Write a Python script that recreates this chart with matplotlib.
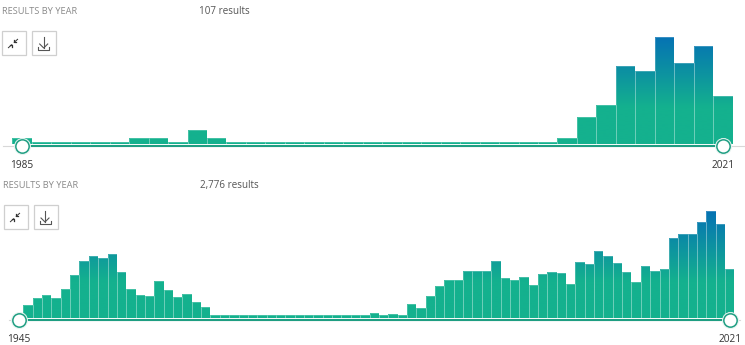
import numpy as np
import matplotlib
matplotlib.use('Agg')
import matplotlib.pyplot as plt
from matplotlib.colors import LinearSegmentedColormap
from matplotlib.patches import Rectangle
from matplotlib.path import Path

W, H = 745, 345
plt.rcParams['font.family'] = ['Open Sans', 'DejaVu Sans']

# bar heights
years_top = list(range(1985, 2022))
values_top = [6.2, 2.4, 2.4, 2.4, 2.4, 2.4, 6.2, 6.2, 2.4, 14.5, 6.2] + [2.4] * 17 + \
             [6.2, 27.2, 39.8, 78.2, 73.8, 107.5, 81.8, 98.8, 48.5]

years_bottom = list(range(1945, 2022))
values_bottom = [1.0, 13.3, 20, 23.3, 20, 28.7, 43.3, 57.3, 62.3, 59.7, 64.3, 45.7, 28.7, 22.7, 21.7,
                 37.3, 27.7, 21, 24, 16.3, 10.7,
                 2.6, 2.6, 2.6, 2.6, 2.6, 2.6, 2.6, 2.6, 2.6, 2.6, 2.6, 2.6, 2.6, 2.6, 2.6, 2.6, 2.6,
                 4.7, 2.7, 3.7, 2.7, 13.7, 9.7, 22.3, 32.3, 37.7, 37.7, 47, 47, 47, 57,
                 40, 38.3, 40.7, 33, 43.7, 45.7, 44.7, 33.7, 56.3, 54, 67, 61.7, 54.7, 46.3, 36.3,
                 51.7, 47, 49.3, 79.7, 83.7, 83.7, 95.7, 107.3, 94.3, 48.7]

GREEN = '#14b18e'
BLUE = '#0570b5'
LINE = '#1f9e82'
cmap = LinearSegmentedColormap.from_list('res', [(0, GREEN), (0.33, GREEN), (1, BLUE)])

fig = plt.figure(figsize=(W / 100, H / 100), dpi=100)

# overlay in pixel coords for the page furniture
page = fig.add_axes([0, 0, 1, 1])
page.set_xlim(0, W)
page.set_ylim(H, 0)
page.axis('off')


def histogram(years, values, left, right, base):
    top = 120
    ax = fig.add_axes([left / W, (H - base) / H, (right - left) / W, top / H])
    ax.axis('off')
    xmin, xmax = years[0] - 0.5, years[-1] + 0.5
    bars = ax.bar(years, values, width=1.0, facecolor='none', edgecolor=(1, 1, 1, 0.22), linewidth=0.7, zorder=3)
    grad = np.linspace(1, 0, 256).reshape(-1, 1)
    im = ax.imshow(grad, extent=[xmin, xmax, 0, 110], cmap=cmap, aspect='auto', zorder=2)
    path = Path.make_compound_path(*[b.get_path().transformed(b.get_patch_transform()) for b in bars])
    im.set_clip_path(path, ax.transData)
    ax.set_xlim(xmin, xmax)
    ax.set_ylim(0, top)

    # slider track and handles
    y = -1.7
    ax.plot([xmin - 0.5, xmax + 0.6], [y, y], color='#d8d8d8', lw=0.8, clip_on=False, zorder=1)
    ax.plot([years[0], years[-1]], [y, y], color=LINE, lw=1.5, clip_on=False, zorder=4, solid_capstyle='butt')
    ax.plot([years[0], years[-1]], [y, y], ls='none', marker='o', ms=11.6, mfc='white', mec='#e4f2ee', mew=0.6,
            clip_on=False, zorder=5)
    ax.plot([years[0], years[-1]], [y, y], ls='none', marker='o', ms=9.6, mfc='white', mec=LINE, mew=1.1,
            clip_on=False, zorder=6)
    return ax


def button(x, y, size=24):
    page.add_patch(Rectangle((x, y), size, size, fc='white', ec='#cfcfcf', lw=0.9))


def shrink_icon(cx, cy):
    for sx, sy in [(1, -1), (-1, 1)]:
        page.plot([cx + sx * 1.2, cx + sx * 4.6], [cy + sy * 1.2, cy + sy * 4.2], color='#333333', lw=0.7)
        page.plot([cx + sx * 1.2, cx + sx * 1.2, cx + sx * 3.4], [cy + sy * 3.4, cy + sy * 1.2, cy + sy * 1.2],
                  color='#333333', lw=0.9)


def download_icon(cx, cy):
    c = '#555555'
    page.plot([cx, cx], [cy - 7, cy + 4], color=c, lw=0.8)
    page.plot([cx - 4, cx, cx + 4], [cy, cy + 4, cy], color=c, lw=0.8)
    page.plot([cx - 5.5, cx - 5.5, cx + 5.5, cx + 5.5], [cy + 3, cy + 6, cy + 6, cy + 3], color=c, lw=0.8)


histogram(years_top, values_top, 12.3, 732.7, 144.5)
histogram(years_bottom, values_bottom, 14, 734.4, 318)

for bx, by in [(1.5, 31), (32, 31), (3.5, 205), (33.5, 205)]:
    button(bx, by)
shrink_icon(13, 43.5)
download_icon(43.7, 44)
shrink_icon(15, 217.5)
download_icon(45, 218)

GREY = '#8a8a8a'
TEXT = '#555555'
DARK = '#333333'
page.text(2, 11.2, 'RESULTS BY YEAR', color=GREY, fontsize=6.7, va='center')
page.text(199, 11.2, '107 results', color=TEXT, fontsize=7.1, va='center')
page.text(3, 185.2, 'RESULTS BY YEAR', color=GREY, fontsize=6.7, va='center')
page.text(200, 185.2, '2,776 results', color=TEXT, fontsize=7.1, va='center')
page.text(22, 165.5, str(years_top[0]), color=DARK, fontsize=7.3, va='center', ha='center')
page.text(723, 165.5, str(years_top[-1]), color=DARK, fontsize=7.3, va='center', ha='center')
page.text(19, 339.3, str(years_bottom[0]), color=DARK, fontsize=7.3, va='center', ha='center')
page.text(730, 339.3, str(years_bottom[-1]), color=DARK, fontsize=7.3, va='center', ha='center')

fig.savefig('out.png', dpi=100)
